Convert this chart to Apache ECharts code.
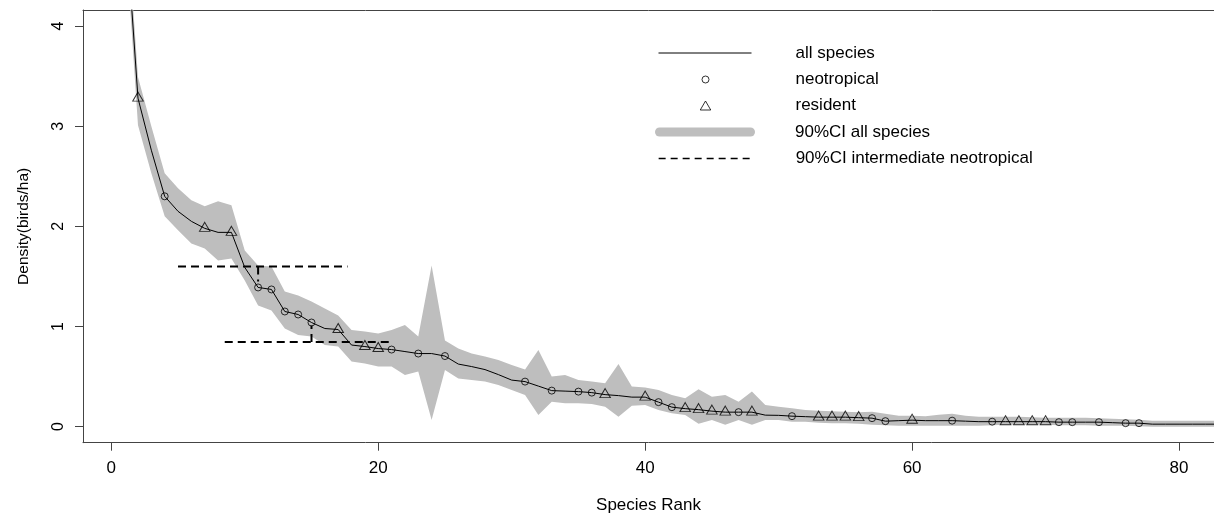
<!DOCTYPE html>
<html>
<head>
<meta charset="utf-8">
<title>Species rank density</title>
<style>
  html, body { margin:0; padding:0; background:#fff; }
</style>
</head>
<body>
<div id="main" style="width:1214px;height:516px;"></div>
<script src="https://cdn.jsdelivr.net/npm/echarts@6/dist/echarts.min.js"></script>
<script type="text/javascript">
// density (birds/ha) by species rank 1..83
var density = [5.2, 3.28, 2.76, 2.30, 2.15, 2.05, 1.98, 1.94, 1.94, 1.59,
    1.39, 1.37, 1.15, 1.12, 1.04, 0.98, 0.97, 0.815, 0.80, 0.78,
    0.77, 0.75, 0.73, 0.73, 0.705, 0.625, 0.60, 0.57, 0.52, 0.465,
    0.45, 0.405, 0.36, 0.355, 0.35, 0.34, 0.32, 0.31, 0.295, 0.295,
    0.245, 0.195, 0.18, 0.17, 0.155, 0.145, 0.145, 0.145, 0.115, 0.113,
    0.105, 0.10, 0.095, 0.095, 0.095, 0.09, 0.085, 0.055, 0.06, 0.065,
    0.06, 0.06, 0.06, 0.055, 0.05, 0.05, 0.05, 0.05, 0.05, 0.05,
    0.045, 0.045, 0.045, 0.045, 0.04, 0.035, 0.035, 0.025, 0.025, 0.025,
    0.025, 0.025, 0.025];
// 90% CI all species
var ciUpper = [5.4, 3.49, 3.00, 2.53, 2.38, 2.26, 2.20, 2.25, 2.21, 1.76,
    1.61, 1.60, 1.35, 1.31, 1.25, 1.18, 1.11, 0.965, 0.95, 0.93,
    0.965, 1.015, 0.90, 1.61, 0.86, 0.78, 0.73, 0.70, 0.665, 0.615,
    0.57, 0.765, 0.50, 0.515, 0.465, 0.45, 0.433, 0.625, 0.40, 0.39,
    0.366, 0.316, 0.283, 0.373, 0.30, 0.316, 0.25, 0.35, 0.217, 0.20,
    0.183, 0.167, 0.16, 0.155, 0.15, 0.145, 0.15, 0.13, 0.11, 0.11,
    0.105, 0.12, 0.13, 0.11, 0.10, 0.10, 0.10, 0.10, 0.095, 0.09,
    0.09, 0.09, 0.09, 0.085, 0.08, 0.075, 0.07, 0.06, 0.06, 0.06,
    0.06, 0.06, 0.06];
var ciLower = [5.0, 3.01, 2.53, 2.10, 1.96, 1.83, 1.78, 1.66, 1.68, 1.46,
    1.21, 1.16, 0.98, 0.915, 0.90, 0.815, 0.80, 0.65, 0.63, 0.60,
    0.60, 0.515, 0.55, 0.067, 0.565, 0.48, 0.465, 0.45, 0.415, 0.366,
    0.316, 0.117, 0.25, 0.233, 0.233, 0.226, 0.20, 0.10, 0.21, 0.217,
    0.167, 0.133, 0.117, 0.03, 0.067, 0.02, 0.067, 0.02, 0.067, 0.067,
    0.05, 0.05, 0.04, 0.035, 0.035, 0.03, 0.02, 0.015, 0.01, 0.01,
    0.01, 0.01, 0.01, 0.01, 0.01, 0.015, 0.02, 0.02, 0.02, 0.02,
    0.015, 0.015, 0.015, 0.01, 0.01, 0.01, 0.005, 0, 0, 0,
    0, 0, 0];
// ranks flagged in the plot
var neoRanks = [4, 11, 12, 13, 14, 15, 21, 23, 25, 31, 33, 35, 36, 41, 42, 47, 51, 57, 58, 63, 66, 71, 72, 74, 76, 77];
var resRanks = [2, 7, 9, 17, 19, 20, 37, 40, 43, 44, 45, 46, 48, 53, 54, 55, 56, 60, 67, 68, 69, 70];
// 90% CI intermediate neotropical (upper, lower)
var interY = [1.60, 0.845];
var interFrom = [5.0, 8.5];
var interTo = [17.7, 21.1];
var interRank = [11, 15];
var interEnd = [1.45, 1.01];

var xTicks = [0, 20, 40, 60, 80];
var yTicks = [0, 1, 2, 3, 4];

var FONT = '"Liberation Sans", Arial, sans-serif';
var AXIS = '#444';
var BAND = '#bebebe';
var NOFILL = 'rgba(0,0,0,0)';

var ranks = density.map(function (d, i) { return i + 1; });

var myChart = echarts.init(document.getElementById('main'));

// CI band as one polygon: upper edge left to right, lower edge back
function renderBand(params, api) {
    if (params.dataIndex !== 0) return;
    var n = params.dataInsideLength || ranks.length;
    var pts = [];
    for (var i = 0; i < ranks.length; i++) pts.push(api.coord([ranks[i], ciUpper[i]]));
    for (var j = ranks.length - 1; j >= 0; j--) pts.push(api.coord([ranks[j], ciLower[j]]));
    var cs = params.coordSys;
    return {
        type: 'group',
        clipPath: { type: 'rect', shape: { x: cs.x, y: cs.y, width: cs.width, height: cs.height } },
        children: [{ type: 'polygon', shape: { points: pts }, style: { fill: BAND, stroke: null } }]
    };
}

var series = [
    {
        name: '90%CI all species', type: 'custom', z: 1, silent: true,
        renderItem: renderBand,
        itemStyle: { color: BAND },
        encode: { x: 0, y: [1, 2] },
        data: ranks.map(function (r, i) { return [r, ciLower[i], ciUpper[i]]; })
    },
    {
        name: 'all species', type: 'line', z: 2, symbol: 'none',
        lineStyle: { color: '#000', width: 1 },
        data: ranks.map(function (r, i) { return [r, density[i]]; })
    }
];

// dashed intermediate CI: horizontal bar plus drop to the point
for (var k = 0; k < interY.length; k++) {
    series.push({
        name: '90%CI intermediate neotropical', type: 'line', z: 3, symbol: 'none',
        lineStyle: { color: '#000', width: 2, type: [8, 5] },
        data: [[interFrom[k], interY[k]], [interTo[k], interY[k]]]
    });
    series.push({
        name: '90%CI intermediate neotropical', type: 'line', z: 3, symbol: 'none',
        lineStyle: { color: '#000', width: 2, type: [8, 5] },
        data: [[interRank[k], interY[k]], [interRank[k], interEnd[k]]]
    });
}

series.push({
    name: 'neotropical', type: 'scatter', z: 4,
    symbol: 'circle', symbolSize: 7,
    itemStyle: { color: NOFILL, borderColor: '#000', borderWidth: 1 },
    data: neoRanks.map(function (r) { return [r, density[r - 1]]; })
});
series.push({
    name: 'resident', type: 'scatter', z: 4,
    symbol: 'triangle', symbolSize: [10.5, 9], symbolOffset: [0, -1.5],
    itemStyle: { color: NOFILL, borderColor: '#000', borderWidth: 1 },
    data: resRanks.map(function (r) { return [r, density[r - 1]]; })
});

function legendRow(item, left, cy, w, h, pad, extra) {
    var l = {
        data: [item], left: left, top: cy - 10, padding: 0, selectedMode: false,
        itemWidth: w, itemHeight: h, symbolKeepAspect: false,
        textStyle: { fontFamily: FONT, fontSize: 17, color: '#000', lineHeight: 20, padding: [0, 0, 0, pad] }
    };
    for (var key in extra) l[key] = extra[key];
    return l;
}

var option = {
    animation: false,
    backgroundColor: '#fff',
    grid: { left: 83, right: 0, top: 10, bottom: 73.3, containLabel: false, outerBoundsMode: 'none' },
    xAxis: [
        {
            type: 'value', position: 'bottom', min: -2.12, max: 82.62,
            axisLine: { show: true, onZero: false, lineStyle: { color: AXIS, width: 1 } },
            axisTick: { show: true, length: 8, customValues: xTicks, lineStyle: { color: AXIS } },
            axisLabel: { customValues: xTicks, margin: 17, fontSize: 17, color: '#000', fontFamily: FONT },
            splitLine: { show: false },
            name: 'Species Rank', nameLocation: 'middle', nameGap: 54,
            nameTextStyle: { fontSize: 17, color: '#000', fontFamily: FONT }
        },
        {
            type: 'value', position: 'top', min: -2.12, max: 82.62,
            axisLine: { show: true, onZero: false, lineStyle: { color: AXIS, width: 1 } },
            axisTick: { show: false }, axisLabel: { show: false }, splitLine: { show: false }
        }
    ],
    yAxis: {
        type: 'value', min: -0.16, max: 4.16,
        axisLine: { show: true, onZero: false, lineStyle: { color: AXIS, width: 1 } },
        axisTick: { show: true, length: 8, customValues: yTicks, lineStyle: { color: AXIS } },
        axisLabel: { customValues: yTicks, rotate: 90, margin: 16, fontSize: 16, color: '#000', fontFamily: FONT },
        splitLine: { show: false },
        name: 'Density(birds/ha)', nameLocation: 'middle', nameGap: 51, nameRotate: 90,
        nameTextStyle: { fontSize: 15.5, color: '#000', fontFamily: FONT }
    },
    legend: [
        legendRow('all species', 658, 53, 93, 14, 39, {
            lineStyle: { width: 1, color: '#000' },
            itemStyle: { color: NOFILL, borderColor: NOFILL, borderWidth: 0, opacity: 0 }
        }),
        legendRow({ name: 'neotropical', icon: 'circle',
                    itemStyle: { color: NOFILL, borderColor: '#000', borderWidth: 1 } },
                  701.5, 79.5, 7, 7, 81.5, {}),
        legendRow({ name: 'resident', icon: 'triangle',
                    itemStyle: { color: NOFILL, borderColor: '#000', borderWidth: 1 } },
                  699.75, 105.5, 10.5, 9, 79.75, {}),
        legendRow({ name: '90%CI all species',
                    icon: 'path://M4.5,0H95.5A4.5,4.5,0,0,1,95.5,9H4.5A4.5,4.5,0,0,1,4.5,0Z',
                    itemStyle: { color: BAND, borderWidth: 0 } },
                  655, 132, 100, 9, 35, {}),
        legendRow('90%CI intermediate neotropical', 658, 158.5, 93, 14, 39, {
            lineStyle: { width: 1.3, color: '#000', type: [7, 5] },
            itemStyle: { color: NOFILL, borderColor: NOFILL, borderWidth: 0, opacity: 0 }
        })
    ],
    series: series
};

myChart.setOption(option);
</script>
</body>
</html>
